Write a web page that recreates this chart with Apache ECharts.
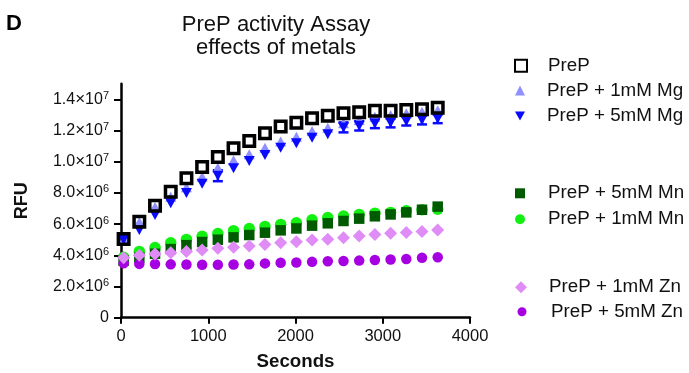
<!DOCTYPE html>
<html><head><meta charset="utf-8">
<script src="https://cdn.jsdelivr.net/npm/echarts@6/dist/echarts.min.js"></script>
<style>html,body{margin:0;padding:0;background:#fff}#c{width:689px;height:373px}</style>
</head><body><div id="c"></div>
<script>
// time points (seconds)
const seconds = [30,210,390,570,750,930,1110,1290,1470,1650,1830,2010,2190,2370,2550,2730,2910,3090,3270,3450,3630];
// RFU values in units of 10^6
const prep   = [5.04,6.15,7.18,8.08,8.94,9.66,10.3,10.86,11.33,11.82,12.25,12.5,12.78,12.95,13.1,13.17,13.27,13.27,13.31,13.36,13.46];
const mg1    = [5.0,6.13,7.1,7.75,8.37,9.04,9.62,10.1,10.47,10.9,11.3,11.6,11.97,12.18,12.46,12.67,12.88,13.0,13.1,13.2,13.3];
const mg5    = [5.0,5.62,6.58,7.33,8.0,8.58,9.1,9.58,10.05,10.43,10.9,11.18,11.54,11.76,12.2,12.3,12.45,12.5,12.6,12.67,12.75];
const mg5Err = [0,0,0,0,0,0,0.35,0,0,0,0,0,0,0,0.32,0.3,0.3,0.3,0.28,0.28,0.28];
const mn5    = [3.65,3.85,4.1,4.4,4.65,4.85,5.0,5.15,5.3,5.45,5.6,5.72,5.9,6.05,6.2,6.35,6.5,6.62,6.75,6.92,7.12];
const mn1    = [3.87,4.25,4.5,4.8,5.02,5.22,5.4,5.58,5.72,5.85,5.98,6.08,6.28,6.42,6.52,6.62,6.7,6.75,6.85,6.92,6.95];
const zn1    = [3.85,4.0,4.08,4.17,4.25,4.34,4.45,4.52,4.6,4.7,4.81,4.87,4.98,5.03,5.13,5.24,5.33,5.41,5.46,5.52,5.62];
const zn5    = [3.49,3.45,3.44,3.42,3.41,3.39,3.39,3.41,3.42,3.48,3.52,3.54,3.58,3.62,3.64,3.66,3.7,3.73,3.76,3.84,3.87];
const yTicks = [0,2,4,6,8,10,12,14];
const xTicks = [0,1000,2000,3000,4000];

const FONT = "'Liberation Sans', Arial, Helvetica, sans-serif";
const TXT = '#111';
const DOWN_TRI = 'path://M0,0L10,0L5,9Z';

function pts(arr){ return seconds.map((t,i)=>[t, arr[i]]); }

const names = {
  prep:'PreP', mg1:'PreP + 1mM Mg', mg5:'PreP + 5mM Mg',
  mn5:'PreP + 5mM Mn', mn1:'PreP + 1mM Mn', zn1:'PreP + 1mM Zn', zn5:'PreP + 5mM Zn'
};

const styles = {
  prep:{symbol:'rect', size:10.5, item:{color:'rgba(255,255,255,0)', borderColor:'#000', borderWidth:3.5}},
  mg1:{symbol:'triangle', size:[11,10], item:{color:'#8f8fff'}},
  mg5:{symbol:DOWN_TRI, size:[11,10], item:{color:'#0a0aff'}},
  mn5:{symbol:'rect', size:10.5, item:{color:'#005a00'}},
  mn1:{symbol:'circle', size:11.5, item:{color:'#12f012'}},
  zn1:{symbol:'diamond', size:[13,13], item:{color:'#df8cf6'}},
  zn5:{symbol:'circle', size:10.5, item:{color:'#a600e2'}}
};
const dataMap = {prep, mg1, mg5, mn5, mn1, zn1, zn5};

function scatter(key){
  const s = styles[key];
  return {
    type:'scatter', name:names[key], data:pts(dataMap[key]),
    symbol:s.symbol, symbolSize:s.size, symbolKeepAspect:false,
    itemStyle:Object.assign({opacity:1}, s.item), emphasis:{disabled:true}, silent:true
  };
}

// legend entries: key, icon center x, center y, icon size
const legendPos = [
  ['prep',520,65.7,12],
  ['mg1',520,90.5,10],
  ['mg5',520,116,10],
  ['mn5',520,193.3,10],
  ['mn1',520,219.3,10],
  ['zn1',521,287.3,12],
  ['zn5',522,311.7,9]
];
const textX = [547,547,547,548,548,549,551];
const legends = legendPos.map((l,i)=>({
  data:[names[l[0]]], selectedMode:false, orient:'vertical',
  left:l[1]-l[3]/2, top:l[2]-10, padding:0,
  itemWidth:l[3], itemHeight:l[3],
  textStyle:{fontFamily:FONT, fontSize:18.8, color:TXT, lineHeight:20,
    padding:[0,0,0, textX[i]-(l[1]+l[3]/2+5)]}
}));

function yFmt(v){
  if (v === 0) return '{m|0}';
  const val = v*1e6;
  const e = Math.floor(Math.log10(val)+1e-9);
  const m = (val/Math.pow(10,e)).toFixed(1);
  return '{m|'+m+'}{x|×}{m|10}{s|'+e+'}';
}

const chart = echarts.init(document.getElementById('c'), null, {renderer:'canvas'});
chart.setOption({
  animation:false,
  backgroundColor:'#fff',
  grid:{left:121, right:219, top:83.7, bottom:55.3, containLabel:false, outerBoundsMode:'none'},
  xAxis:{
    type:'value', min:0, max:4000, interval:1000,
    name:'Seconds', nameLocation:'middle', nameGap:35,
    nameTextStyle:{fontFamily:FONT, fontSize:18.7, fontWeight:'bold', color:TXT},
    axisLine:{lineStyle:{color:'#000', width:2.5}},
    axisTick:{length:6, customValues:xTicks, lineStyle:{color:'#000', width:2}},
    axisLabel:{customValues:xTicks, fontFamily:FONT, fontSize:16.5, color:TXT, margin:10,
      formatter:function(v){ return String(v); }},
    splitLine:{show:false}
  },
  yAxis:{
    type:'value', min:0, max:15, interval:2,
    name:'RFU', nameLocation:'middle', nameGap:90, nameRotate:90,
    nameTextStyle:{fontFamily:FONT, fontSize:18, fontWeight:'bold', color:TXT},
    axisLine:{show:true, lineStyle:{color:'#000', width:2.5}},
    axisTick:{show:true, length:7, customValues:yTicks, lineStyle:{color:'#000', width:2}},
    axisLabel:{customValues:yTicks, margin:12, formatter:yFmt,
      rich:{
        m:{fontFamily:FONT, fontSize:16, color:TXT, lineHeight:18},
        x:{fontFamily:FONT, fontSize:17, color:TXT, lineHeight:18},
        s:{fontFamily:FONT, fontSize:11, color:TXT, lineHeight:8, verticalAlign:'top'}
      }},
    splitLine:{show:false}
  },
  legend:legends,
  graphic:[
    {type:'text', x:6, y:12.5, style:{text:'D', font:"bold 22px "+FONT, fill:'#000', verticalAlign:'top'}},
    {type:'text', x:276, y:13, style:{text:'PreP activity Assay\neffects of metals', font:"22px "+FONT, fill:TXT, align:'center', verticalAlign:'top', lineHeight:23.5}}
  ],
  series:[
    {
      type:'custom', name:'err', silent:true,
      data:seconds.map((t,i)=>[t, mg5[i], mg5Err[i]]),
      renderItem:function(params, api){
        const x = api.value(0), y = api.value(1), e = api.value(2);
        if (!e) return null;
        const top = api.coord([x, y+e]), bot = api.coord([x, y-e]);
        const hw = 5;
        const st = {stroke:'#0a0aff', lineWidth:2.5};
        return {type:'group', children:[
          {type:'line', shape:{x1:top[0], y1:top[1], x2:bot[0], y2:bot[1]}, style:st},
          {type:'line', shape:{x1:top[0]-hw, y1:top[1], x2:top[0]+hw, y2:top[1]}, style:st},
          {type:'line', shape:{x1:bot[0]-hw, y1:bot[1], x2:bot[0]+hw, y2:bot[1]}, style:st}
        ]};
      }
    },
    scatter('mg1'), scatter('mg5'), scatter('prep'),
    scatter('mn1'), scatter('mn5'), scatter('zn5'), scatter('zn1')
  ]
});
</script></body></html>
